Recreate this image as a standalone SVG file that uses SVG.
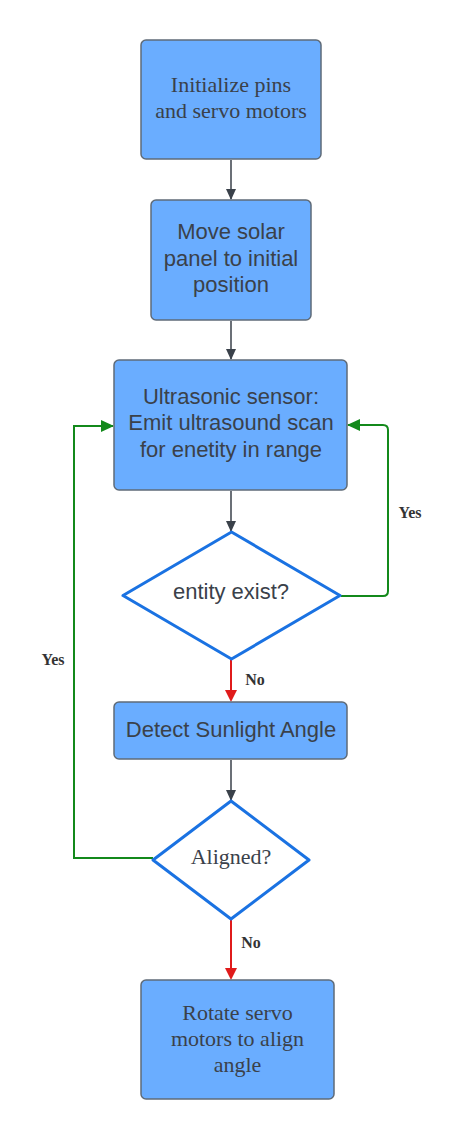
<svg xmlns="http://www.w3.org/2000/svg" width="462" height="1140" viewBox="0 0 462 1140">
<style>
.box{fill:#6aadff;stroke:#5f6b78;stroke-width:1.5}
.dia{fill:#ffffff;stroke:#1a72e2;stroke-width:3;stroke-linejoin:round}
.sans{font-family:"Liberation Sans",Arial,sans-serif;font-size:22px;fill:#3a414a;text-anchor:middle}
.serif{font-family:"Liberation Serif","Times New Roman",serif;font-size:22px;fill:#3a414a;text-anchor:middle}
.lbl{font-family:"Liberation Serif","Times New Roman",serif;font-size:16px;font-weight:bold;fill:#333;text-anchor:middle}
.dark{stroke:#3a414a;stroke-width:1.5;fill:none}
.red{stroke:#e01b1b;stroke-width:2;fill:none}
.green{stroke:#13891b;stroke-width:2;fill:none}
</style>
<defs>
<marker id="ad" markerWidth="12" markerHeight="12" refX="10" refY="6" orient="auto" markerUnits="userSpaceOnUse"><path d="M0,1 L11,6 L0,11 Z" fill="#3a414a"/></marker>
<marker id="ar" markerWidth="12" markerHeight="14" refX="10" refY="7" orient="auto" markerUnits="userSpaceOnUse"><path d="M0,1 L12,7 L0,13 Z" fill="#e01b1b"/></marker>
<marker id="ag" markerWidth="14" markerHeight="14" refX="12" refY="7" orient="auto" markerUnits="userSpaceOnUse"><path d="M0,1 L13,7 L0,13 Z" fill="#13891b"/></marker>
</defs>
<g id="connectors">
<path class="dark" d="M231,160 V199" marker-end="url(#ad)"/>
<path class="dark" d="M231,321 V359" marker-end="url(#ad)"/>
<path class="dark" d="M231,491 V531" marker-end="url(#ad)"/>
<path class="red" d="M231,660 V700" marker-end="url(#ar)"/>
<path class="dark" d="M231,760 V800" marker-end="url(#ad)"/>
<path class="red" d="M231,920 V978" marker-end="url(#ar)"/>
<path class="green" d="M341,596 H383 Q388,596 388,591 V430 Q388,425 383,425 H348" marker-end="url(#ag)"/>
<path class="green" d="M153,858 H74 V426 H113" marker-end="url(#ag)"/>
<text class="lbl" x="410" y="518">Yes</text>
<text class="lbl" x="53" y="665">Yes</text>
<text class="lbl" x="255" y="685">No</text>
<text class="lbl" x="251" y="948">No</text>
</g>
<g id="n1">
<rect class="box" x="141" y="40" width="180" height="119" rx="5"/>
<text class="serif" x="231" y="92">Initialize pins</text>
<text class="serif" x="231" y="118">and servo motors</text>
</g>
<g id="n2">
<rect class="box" x="151" y="200" width="160" height="120" rx="5"/>
<text class="sans" x="231" y="239">Move solar</text>
<text class="sans" x="231" y="266">panel to initial</text>
<text class="sans" x="231" y="292">position</text>
</g>
<g id="n3">
<rect class="box" x="114" y="360" width="233" height="130" rx="5"/>
<text class="sans" x="231" y="404">Ultrasonic sensor:</text>
<text class="sans" x="231" y="430">Emit ultrasound scan</text>
<text class="sans" x="231" y="457">for enetity in range</text>
</g>
<g id="n4">
<path class="dia" d="M231.5,532 L340,595.5 L231.5,659 L123,595.5 Z"/>
<text class="sans" x="231" y="599">entity exist?</text>
</g>
<g id="n5">
<rect class="box" x="114" y="702" width="233" height="57" rx="5"/>
<text class="sans" x="231" y="737">Detect Sunlight Angle</text>
</g>
<g id="n6">
<path class="dia" d="M231,801 L309,860 L231,919 L153,860 Z"/>
<text class="serif" x="231" y="864">Aligned?</text>
</g>
<g id="n7">
<rect class="box" x="141" y="980" width="193" height="119" rx="5"/>
<text class="serif" x="237.5" y="1020">Rotate servo</text>
<text class="serif" x="237.5" y="1046">motors to align</text>
<text class="serif" x="237.5" y="1072">angle</text>
</g>
</svg>
